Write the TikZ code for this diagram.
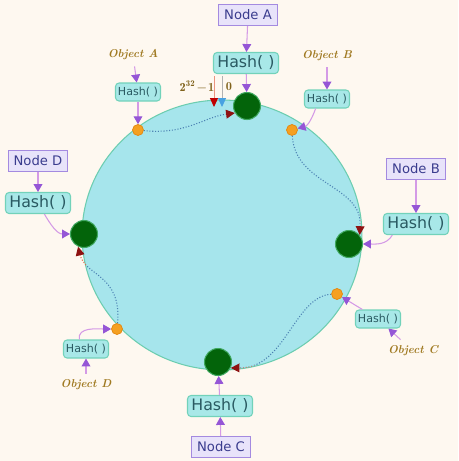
\documentclass[tikz,border=0pt]{standalone}
\usepackage{fontspec}
\newfontfamily\boxfont{DejaVu Sans}
\usetikzlibrary{arrows.meta,positioning,shapes.geometric}

\definecolor{paper}{HTML}{FEF8F0}
\definecolor{ringfill}{HTML}{A6E5EC}
\definecolor{ringline}{HTML}{6CCDB0}
\definecolor{nodefill}{HTML}{E8E3FA}
\definecolor{nodeline}{HTML}{A48AE0}
\definecolor{nodetext}{HTML}{3A3C8E}
\definecolor{hashfill}{HTML}{A8E8E8}
\definecolor{hashline}{HTML}{72D2BA}
\definecolor{hashtext}{HTML}{2A5A62}
\definecolor{objtext}{HTML}{A07A22}
\definecolor{servergreen}{HTML}{03640A}
\definecolor{serverrim}{HTML}{3FA860}
\definecolor{keyorange}{HTML}{F5A021}
\definecolor{keyrim}{HTML}{E4860C}
\definecolor{arrline}{HTML}{D49AE6}
\definecolor{arrtip}{HTML}{9556D6}
\definecolor{flowred}{HTML}{E2664A}
\definecolor{flowblue}{HTML}{4A80B2}
\definecolor{flowtip}{HTML}{8E1212}
\definecolor{keytipblue}{HTML}{48A2E2}

\begin{document}
\begin{tikzpicture}[x=0.02cm, y=-0.02cm,
  nodebox/.style={draw=nodeline, fill=nodefill, text=nodetext, line width=0.6pt,
                  font=\boxfont\fontsize{7.5}{8}\selectfont,
                  minimum width=1.18cm, minimum height=0.42cm, inner sep=1pt},
  hashbig/.style={draw=hashline, fill=hashfill, text=hashtext, rounded corners=2pt,
                  line width=0.6pt, font=\boxfont\fontsize{9}{10}\selectfont,
                  minimum width=1.3cm, minimum height=0.42cm, inner sep=1pt},
  hashsmall/.style={hashbig, font=\boxfont\fontsize{6.3}{7}\selectfont,
                  minimum width=0.9cm, minimum height=0.36cm},
  objlbl/.style={text=objtext, font=\fontsize{6.5}{7}\selectfont\bfseries\itshape},
  server/.style={circle, fill=servergreen, draw=serverrim, line width=0.6pt,
                 minimum size=0.54cm, inner sep=0pt},
  key/.style={circle, fill=keyorange, draw=keyrim, line width=0.4pt,
              minimum size=0.22cm, inner sep=0pt},
  arr/.style={draw=arrline, line width=0.6pt,
              -{Triangle[length=4.5pt,width=5pt,color=arrtip,fill=arrtip]}},
  flow/.style={draw=flowred, densely dotted, line width=0.6pt,
               -{Triangle[length=5pt,width=5pt,color=flowtip,fill=flowtip]}},
  flowin/.style={draw=flowblue, densely dotted, line width=0.6pt, shorten >=5.5pt,
                 preaction={draw=ringfill, solid, line width=1.4pt}}
]
  \fill[paper] (0,0) rectangle (458,461);
  \useasboundingbox (0,0) rectangle (458,461);

  % the hash ring
  \node[ellipse, fill=ringfill, draw=ringline, line width=0.6pt,
        minimum width=5.6cm, minimum height=5.4cm] (ring) at (222,235) {};

  % servers and keys on the ring
  \node[server] (sa) at (247,106) {};
  \node[server] (sb) at (349,244) {};
  \node[server] (sc) at (218,362) {};
  \node[server] (sd) at (84,234) {};
  \node[key] (ka) at (138,130) {};
  \node[key] (kb) at (292,130) {};
  \node[key] (kc) at (337,294) {};
  \node[key] (kd) at (117,329) {};

  % clockwise walk from each key to its server
  \draw[flow] (ka) .. controls (185,135) and (205,117) .. (sa.210);
  \draw[flow] (kb) .. controls (295,185) and (362,185) .. (sb.40);
  \draw[flow] (kc) .. controls (295,296) and (285,368) .. (sc.-25);
  \draw[flow] (kd) .. controls (122,275) and (85,275) .. (sd.-115);
  \begin{scope}
    \clip (222,235) ellipse [x radius=2.78cm, y radius=2.68cm];
    \draw[flowin] (ka) .. controls (185,135) and (205,117) .. (sa.210);
    \draw[flowin] (kb) .. controls (295,185) and (362,185) .. (sb.40);
    \draw[flowin] (kc) .. controls (295,296) and (285,368) .. (sc.-25);
    \draw[flowin] (kd) .. controls (122,275) and (85,275) .. (sd.-115);
  \end{scope}

  % start / end of the ring
  \node[text=objtext!80!black, font=\fontsize{7}{8}\selectfont] (last) at (197,87)
    {$\mathbf{2^{32}\!-\!1}$};
  \node[text=objtext!80!black, font=\fontsize{7}{8}\selectfont] (zero) at (229,87)
    {$\mathbf{0}$};
  \coordinate (lasttop) at (214,76);  \coordinate (lastbot) at (214,107);
  \coordinate (zerotop) at (222,76);  \coordinate (zerobot) at (222,107);
  \draw[draw=flowred!70, line width=0.5pt,
        -{Triangle[length=5pt,width=4.5pt,color=red!75!black,fill=red!75!black]}] (lasttop) -- (lastbot);
  \draw[draw=gray!60, line width=0.5pt,
        -{Triangle[length=5pt,width=4.5pt,color=keytipblue,fill=keytipblue]}] (zerotop) -- (zerobot);

  % servers
  \node[nodebox] (na) at (248,15)  {Node A};
  \node[nodebox] (nb) at (416,169) {Node B};
  \node[nodebox] (nc) at (221,447) {Node C};
  \node[nodebox] (nd) at (38,161)  {Node D};
  \node[hashbig] (hba) at (246,63)  {Hash( )};
  \node[hashbig] (hbb) at (416,224) {Hash( )};
  \node[hashbig] (hbc) at (220,406) {Hash( )};
  \node[hashbig] (hbd) at (38,203)  {Hash( )};
  \draw[arr] (na) -- (hba);  \draw[arr] (hba) -- (sa);
  \draw[arr] (nb) -- (hbb);  \draw[arr] (hbb.-155) to[out=-120,in=0] (sb);
  \draw[arr] (nc) -- (hbc);  \draw[arr] (hbc) -- (sc);
  \draw[arr] (nd) -- (hbd);  \draw[arr] (hbd.-60) to[out=-60,in=180] (sd);

  % objects
  \node[objlbl] (oa) at (133,55)  {Object A};
  \node[objlbl] (ob) at (327,56)  {Object B};
  \node[objlbl] (oc) at (413,351) {Object C};
  \node[objlbl] (od) at (86,385)  {Object D};
  \node[hashsmall] (hka) at (138,92)  {Hash( )};
  \node[hashsmall] (hkb) at (327,99)  {Hash( )};
  \node[hashsmall] (hkc) at (378,319) {Hash( )};
  \node[hashsmall] (hkd) at (86,349)  {Hash( )};
  \draw[arr] (oa) -- (hka);  \draw[arr] (hka) -- (ka);
  \draw[arr] (ob) -- (hkb);  \draw[arr] (hkb.-140) to[out=-110,in=15] (kb);
  \draw[arr] (oc) -- (hkc);  \draw[arr] (hkc) -- (kc);
  \draw[arr] (od) -- (hkd);  \draw[arr] (hkd.125) to[out=100,in=180] (kd);
\end{tikzpicture}
\end{document}
